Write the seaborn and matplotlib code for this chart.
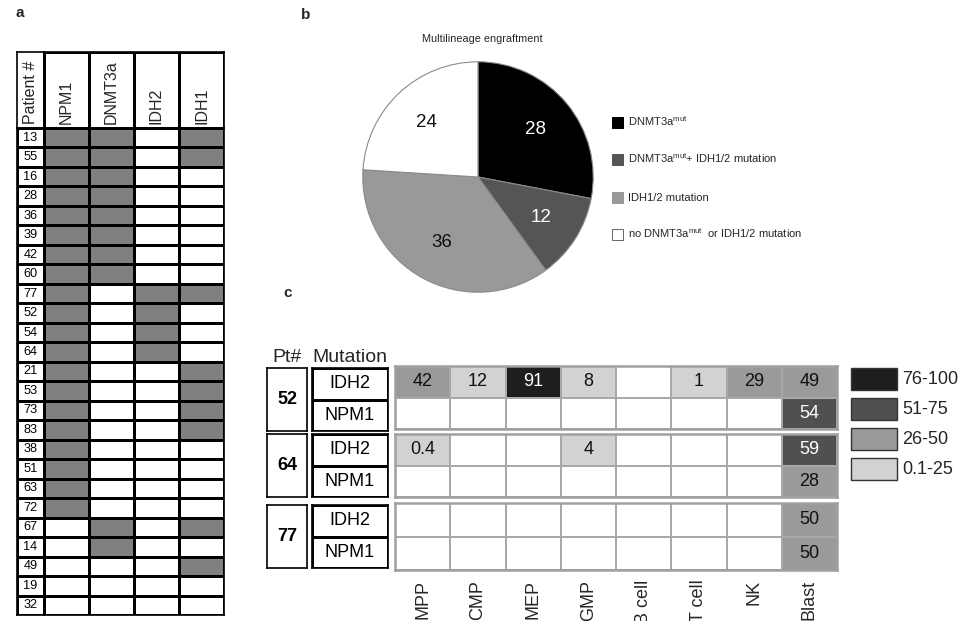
import numpy as np
import pandas as pd
import seaborn as sns
import matplotlib.pyplot as plt
from matplotlib.colors import ListedColormap, BoundaryNorm
from matplotlib.patches import Rectangle
from matplotlib import font_manager

# ---- panel a: mutations per patient ----
patients = [13, 55, 16, 28, 36, 39, 42, 60, 77, 52, 54, 64, 21, 53, 73, 83, 38, 51, 63, 72, 67, 14, 49, 19, 32]
genes_a = ["NPM1", "DNMT3a", "IDH2", "IDH1"]
npm1 = [1, 1, 1, 1, 1, 1, 1, 1, 1, 1, 1, 1, 1, 1, 1, 1, 1, 1, 1, 1, 0, 0, 0, 0, 0]
dnmt3a = [1, 1, 1, 1, 1, 1, 1, 1, 0, 0, 0, 0, 0, 0, 0, 0, 0, 0, 0, 0, 1, 1, 0, 0, 0]
idh2 = [0, 0, 0, 0, 0, 0, 0, 0, 1, 1, 1, 1, 0, 0, 0, 0, 0, 0, 0, 0, 0, 0, 0, 0, 0]
idh1 = [1, 1, 0, 0, 0, 0, 0, 0, 1, 0, 0, 0, 1, 1, 1, 1, 0, 0, 0, 0, 1, 0, 1, 0, 0]

# ---- panel b: multilineage engraftment ----
pie_labels = [r"DNMT3a$^{mut}$",
              r"DNMT3a$^{mut}$+ IDH1/2 mutation",
              "IDH1/2 mutation",
              r"no DNMT3a$^{mut}$  or IDH1/2 mutation"]
pie_values = [28, 12, 36, 24]
pie_colors = ["#000000", "#555555", "#999999", "#ffffff"]

# ---- panel c: VAF per sorted population ----
cell_types = ["MPP", "CMP", "MEP", "GMP", "B cell", "T cell", "NK", "Blast"]
pts_c = [52, 64, 77]
muts_c = ["IDH2", "NPM1"]
vaf_52_idh2 = [42, 12, 91, 8, 0, 1, 29, 49]
vaf_52_npm1 = [0, 0, 0, 0, 0, 0, 0, 54]
vaf_64_idh2 = [0.4, 0, 0, 4, 0, 0, 0, 59]
vaf_64_npm1 = [0, 0, 0, 0, 0, 0, 0, 28]
vaf_77_idh2 = [0, 0, 0, 0, 0, 0, 0, 50]
vaf_77_npm1 = [0, 0, 0, 0, 0, 0, 0, 50]
bins_c = ["76-100", "51-75", "26-50", "0.1-25"]
bin_colors = ["#1e1e1e", "#505050", "#9a9a9a", "#d2d2d2"]

sns.set_theme(style="white")
plt.rcParams["font.family"] = ["Liberation Sans", "DejaVu Sans"]
plt.rcParams["mathtext.default"] = "regular"
names = {f.name for f in font_manager.fontManager.ttflist}
narrow = "Liberation Sans Narrow" if "Liberation Sans Narrow" in names else "Liberation Sans"
num_size = 10 if narrow == "Liberation Sans Narrow" else 9.2

W, H = 965, 621
fig = plt.figure(figsize=(W / 100, H / 100), dpi=100)


def px(x0, y0, x1, y1):
    return [x0 / W, 1 - y1 / H, (x1 - x0) / W, (y1 - y0) / H]


def frame(ax, lw, color):
    for s in ax.spines.values():
        s.set_visible(True)
        s.set_linewidth(lw)
        s.set_color(color)


white = ListedColormap(["white"])

# panel a header
ax = fig.add_axes(px(17, 52, 44, 128))
sns.heatmap(pd.DataFrame([[0]]), ax=ax, cmap=white, vmin=0, vmax=1, cbar=False,
            xticklabels=False, yticklabels=False)
frame(ax, 1.2, "black")
ax.text(0.5, 0.95, "Patient #", rotation=90, ha="center", va="bottom", fontsize=11.5)

ax = fig.add_axes(px(44, 52, 224, 128))
sns.heatmap(pd.DataFrame([[0, 0, 0, 0]], columns=genes_a), ax=ax, cmap=white, vmin=0, vmax=1,
            cbar=False, linewidths=1, linecolor="black", xticklabels=False, yticklabels=False)
frame(ax, 1.2, "black")
for i, g in enumerate(genes_a):
    ax.text(i + 0.5, 0.95, g, rotation=90, ha="center", va="bottom", fontsize=11.5)

# panel a body
ax = fig.add_axes(px(17, 128, 44, 615))
sns.heatmap(pd.DataFrame({"Patient #": np.zeros(len(patients))}), ax=ax, cmap=white, vmin=0, vmax=1,
            cbar=False, annot=np.array([[str(p)] for p in patients]), fmt="",
            annot_kws=dict(fontsize=num_size, color="black", family=narrow),
            linewidths=1, linecolor="black", xticklabels=False, yticklabels=False)
frame(ax, 1.2, "black")

mut_df = pd.DataFrame({"NPM1": npm1, "DNMT3a": dnmt3a, "IDH2": idh2, "IDH1": idh1}, index=patients)
ax = fig.add_axes(px(44, 128, 224, 615))
sns.heatmap(mut_df, ax=ax, cmap=ListedColormap(["white", "#808080"]), vmin=0, vmax=1, cbar=False,
            linewidths=1, linecolor="black", xticklabels=False, yticklabels=False)
frame(ax, 1.2, "black")

# panel b pie
ax = fig.add_axes(px(358, 57, 598, 297))
total = sum(pie_values)
wedges, texts, autos = ax.pie(pie_values, colors=pie_colors, startangle=90, counterclock=False,
                              radius=0.96, autopct=lambda p: f"{p * total / 100:.0f}",
                              pctdistance=0.65, wedgeprops=dict(edgecolor="#8a8a8a", linewidth=0.8),
                              textprops=dict(fontsize=13.5))
for t, c in zip(autos, ["white", "white", "#111111", "#111111"]):
    t.set_color(c)
ax.set_xlim(-1, 1)
ax.set_ylim(-1, 1)

# overlay for free text and legends (pixel coordinates)
ov = fig.add_axes([0, 0, 1, 1], zorder=5)
ov.set_xlim(0, W)
ov.set_ylim(H, 0)
ov.axis("off")

ov.text(15, 13, "a", fontsize=11, fontweight="bold", va="center")
ov.text(301, 15, "b", fontsize=11, fontweight="bold", va="center")
ov.text(283, 293, "c", fontsize=11, fontweight="bold", va="center")
ov.text(482, 39, "Multilineage engraftment", fontsize=7.8, ha="center", va="center")

for y, lab, col in zip([122, 159, 197, 234], pie_labels, pie_colors):
    ov.add_patch(Rectangle((612, y - 5.5), 11, 11, facecolor=col,
                           edgecolor="#666666" if col == "#ffffff" else col, linewidth=0.7))
    ov.text(628, y + 4, lab, fontsize=8, va="baseline")

# panel c
cmap_c = ListedColormap(["white"] + bin_colors[::-1])
norm_c = BoundaryNorm([-1, 0.05, 25.5, 50.5, 75.5, 101], cmap_c.N)
vafs = {52: (vaf_52_idh2, vaf_52_npm1), 64: (vaf_64_idh2, vaf_64_npm1), 77: (vaf_77_idh2, vaf_77_npm1)}
heat_y = {52: (366, 429), 64: (434, 497), 77: (503, 570)}
box_y = {52: (368, 431), 64: (434, 497), 77: (505, 568)}

ov.text(287, 358, "Pt#", fontsize=14, ha="center", va="center")
ov.text(350, 358, "Mutation", fontsize=14, ha="center", va="center")

for pt in pts_c:
    df = pd.DataFrame(list(vafs[pt]), index=muts_c, columns=cell_types)
    annot = np.array([["" if v == 0 else f"{v:g}" for v in row] for row in df.values])
    y0, y1 = heat_y[pt]
    ax = fig.add_axes(px(395, y0, 837, y1))
    last = pt == pts_c[-1]
    sns.heatmap(df, ax=ax, cmap=cmap_c, norm=norm_c, cbar=False, annot=annot, fmt="",
                annot_kws=dict(fontsize=13), linewidths=1.4, linecolor="#a8a8a8",
                xticklabels=cell_types if last else False, yticklabels=False)
    frame(ax, 1.8, "#a0a0a0")
    for t in ax.texts:
        s = t.get_text()
        t.set_color("white" if s and float(s) > 50 else "#111111")
    if last:
        ax.tick_params(axis="x", length=0, pad=7, labelsize=13)
        plt.setp(ax.get_xticklabels(), rotation=90)

    b0, b1 = box_y[pt]
    ax = fig.add_axes(px(267, b0, 307, b1))
    sns.heatmap(pd.DataFrame([[0]]), ax=ax, cmap=white, vmin=0, vmax=1, cbar=False,
                annot=np.array([[str(pt)]]), fmt="",
                annot_kws=dict(fontsize=13, fontweight="bold", color="black"),
                xticklabels=False, yticklabels=False)
    frame(ax, 1.2, "black")

    ax = fig.add_axes(px(312, b0, 388, b1))
    sns.heatmap(pd.DataFrame([[0], [0]], index=muts_c), ax=ax, cmap=white, vmin=0, vmax=1, cbar=False,
                annot=np.array([[m] for m in muts_c]), fmt="",
                annot_kws=dict(fontsize=13, color="black"),
                linewidths=1, linecolor="black", xticklabels=False, yticklabels=False)
    frame(ax, 1.2, "black")

for (y0, y1), lab, col in zip([(368, 390), (398, 420), (428, 450), (458, 480)], bins_c, bin_colors):
    ov.add_patch(Rectangle((851, y0), 46, y1 - y0, facecolor=col, edgecolor="#333333", linewidth=1))
    ov.text(902, (y0 + y1) / 2, lab, fontsize=13, va="center")

fig.savefig("out.png", dpi=100)
